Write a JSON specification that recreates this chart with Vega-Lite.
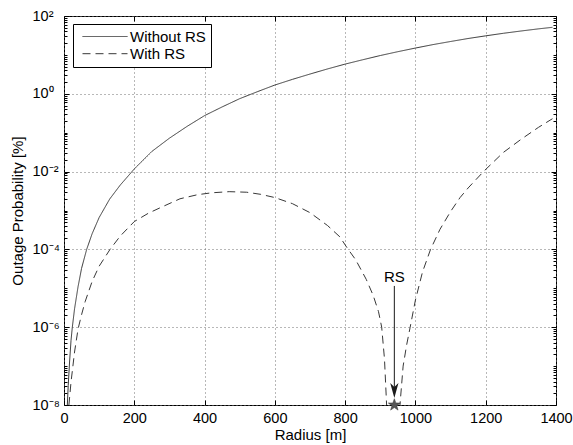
{
  "$schema": "https://vega.github.io/schema/vega-lite/v6.json",
  "width": 492,
  "height": 389,
  "autosize": "none",
  "padding": {"left": 64, "top": 16, "right": 17, "bottom": 40},
  "background": "white",
  "config": {
    "view": {"stroke": "black", "strokeWidth": 1},
    "font": "Liberation Sans",
    "axis": {
      "domain": false,
      "tickColor": "black",
      "tickWidth": 1,
      "labelColor": "black",
      "titleColor": "black",
      "labelFont": "Liberation Sans",
      "titleFont": "Liberation Sans",
      "titleFontWeight": "normal",
      "gridColor": "#707070",
      "gridDash": [1, 3],
      "gridWidth": 1,
      "labelOverlap": false,
      "labelFlush": false
    }
  },
  "datasets": {
    "curves": [
      {"r": 9.5, "p": 1e-8, "s": "Without RS"},
      {"r": 12, "p": 3.2e-8, "s": "Without RS"},
      {"r": 16, "p": 1.35e-7, "s": "Without RS"},
      {"r": 20, "p": 4.6e-7, "s": "Without RS"},
      {"r": 23.7, "p": 1e-6, "s": "Without RS"},
      {"r": 30, "p": 2.96e-6, "s": "Without RS"},
      {"r": 40, "p": 1.1e-5, "s": "Without RS"},
      {"r": 50, "p": 3.26e-5, "s": "Without RS"},
      {"r": 64.5, "p": 1e-4, "s": "Without RS"},
      {"r": 80, "p": 2.52e-4, "s": "Without RS"},
      {"r": 100, "p": 6.6e-4, "s": "Without RS"},
      {"r": 130, "p": 1.97e-3, "s": "Without RS"},
      {"r": 160, "p": 4.5e-3, "s": "Without RS"},
      {"r": 200, "p": 1.17e-2, "s": "Without RS"},
      {"r": 250, "p": 3.3e-2, "s": "Without RS"},
      {"r": 300, "p": 7.23e-2, "s": "Without RS"},
      {"r": 350, "p": 0.145, "s": "Without RS"},
      {"r": 400, "p": 0.275, "s": "Without RS"},
      {"r": 450, "p": 0.46, "s": "Without RS"},
      {"r": 500, "p": 0.75, "s": "Without RS"},
      {"r": 550, "p": 1.13, "s": "Without RS"},
      {"r": 600, "p": 1.68, "s": "Without RS"},
      {"r": 650, "p": 2.35, "s": "Without RS"},
      {"r": 700, "p": 3.22, "s": "Without RS"},
      {"r": 750, "p": 4.36, "s": "Without RS"},
      {"r": 800, "p": 5.8, "s": "Without RS"},
      {"r": 850, "p": 7.5, "s": "Without RS"},
      {"r": 900, "p": 9.63, "s": "Without RS"},
      {"r": 950, "p": 12.1, "s": "Without RS"},
      {"r": 1000, "p": 15.0, "s": "Without RS"},
      {"r": 1050, "p": 18.4, "s": "Without RS"},
      {"r": 1100, "p": 22.1, "s": "Without RS"},
      {"r": 1150, "p": 26.4, "s": "Without RS"},
      {"r": 1200, "p": 30.9, "s": "Without RS"},
      {"r": 1250, "p": 35.9, "s": "Without RS"},
      {"r": 1300, "p": 41.1, "s": "Without RS"},
      {"r": 1350, "p": 46.7, "s": "Without RS"},
      {"r": 1390, "p": 51.2, "s": "Without RS"},
      {"r": 14, "p": 1e-8, "s": "With RS"},
      {"r": 20, "p": 3.9e-8, "s": "With RS"},
      {"r": 30, "p": 2.3e-7, "s": "With RS"},
      {"r": 40, "p": 9e-7, "s": "With RS"},
      {"r": 50, "p": 2.1e-6, "s": "With RS"},
      {"r": 60, "p": 4.5e-6, "s": "With RS"},
      {"r": 80, "p": 1.5e-5, "s": "With RS"},
      {"r": 100, "p": 3.7e-5, "s": "With RS"},
      {"r": 131, "p": 1e-4, "s": "With RS"},
      {"r": 160, "p": 2.2e-4, "s": "With RS"},
      {"r": 200, "p": 5.2e-4, "s": "With RS"},
      {"r": 240, "p": 8.5e-4, "s": "With RS"},
      {"r": 280, "p": 1.25e-3, "s": "With RS"},
      {"r": 330, "p": 2.0e-3, "s": "With RS"},
      {"r": 380, "p": 2.55e-3, "s": "With RS"},
      {"r": 420, "p": 2.85e-3, "s": "With RS"},
      {"r": 470, "p": 3.05e-3, "s": "With RS"},
      {"r": 520, "p": 2.95e-3, "s": "With RS"},
      {"r": 560, "p": 2.6e-3, "s": "With RS"},
      {"r": 600, "p": 2.15e-3, "s": "With RS"},
      {"r": 650, "p": 1.5e-3, "s": "With RS"},
      {"r": 700, "p": 8.8e-4, "s": "With RS"},
      {"r": 750, "p": 4.1e-4, "s": "With RS"},
      {"r": 785, "p": 2.1e-4, "s": "With RS"},
      {"r": 804, "p": 1.15e-4, "s": "With RS"},
      {"r": 830, "p": 5.4e-5, "s": "With RS"},
      {"r": 860, "p": 1.7e-5, "s": "With RS"},
      {"r": 880, "p": 6.5e-6, "s": "With RS"},
      {"r": 895, "p": 2.5e-6, "s": "With RS"},
      {"r": 904, "p": 1e-6, "s": "With RS"},
      {"r": 912, "p": 1.5e-7, "s": "With RS"},
      {"r": 918, "p": 1e-8, "s": "With RS"},
      {"r": 940, "p": 1e-11, "s": "With RS"},
      {"r": 956, "p": 1e-8, "s": "With RS"},
      {"r": 965, "p": 1e-7, "s": "With RS"},
      {"r": 975, "p": 3.5e-7, "s": "With RS"},
      {"r": 985, "p": 1e-6, "s": "With RS"},
      {"r": 1000, "p": 5e-6, "s": "With RS"},
      {"r": 1020, "p": 2.6e-5, "s": "With RS"},
      {"r": 1043, "p": 1e-4, "s": "With RS"},
      {"r": 1070, "p": 3.3e-4, "s": "With RS"},
      {"r": 1100, "p": 9.4e-4, "s": "With RS"},
      {"r": 1127, "p": 2.15e-3, "s": "With RS"},
      {"r": 1150, "p": 3.8e-3, "s": "With RS"},
      {"r": 1195, "p": 1.03e-2, "s": "With RS"},
      {"r": 1250, "p": 3.1e-2, "s": "With RS"},
      {"r": 1300, "p": 6.7e-2, "s": "With RS"},
      {"r": 1350, "p": 0.137, "s": "With RS"},
      {"r": 1390, "p": 0.229, "s": "With RS"}
    ]
  },
  "resolve": {"axis": {"x": "independent", "y": "independent"}},
  "layer": [
    {
      "data": {"name": "curves"},
      "mark": {"type": "line", "clip": true, "color": "#383838", "strokeWidth": 1},
      "encoding": {
        "x": {
          "field": "r", "type": "quantitative",
          "scale": {"domain": [0, 1400], "nice": false, "zero": false},
          "axis": {
            "orient": "bottom",
            "values": [0, 200, 400, 600, 800, 1000, 1200, 1400],
            "format": "d",
            "title": "Radius [m]", "titleFontSize": 15, "titlePadding": 3,
            "labelFontSize": 14.5, "tickSize": -5, "labelPadding": 11, "grid": true
          }
        },
        "y": {
          "field": "p", "type": "quantitative",
          "scale": {"type": "log", "domain": [1e-8, 100], "nice": false},
          "axis": {
            "orient": "left",
            "values": [1e-8,2e-8,3e-8,4e-8,5e-8,6e-8,7e-8,8e-8,9e-8,1e-7,2e-7,3e-7,4e-7,5e-7,6e-7,7e-7,8e-7,9e-7,1e-6,2e-6,3e-6,4e-6,5e-6,6e-6,7e-6,8e-6,9e-6,1e-5,2e-5,3e-5,4e-5,5e-5,6e-5,7e-5,8e-5,9e-5,1e-4,2e-4,3e-4,4e-4,5e-4,6e-4,7e-4,8e-4,9e-4,0.001,0.002,0.003,0.004,0.005,0.006,0.007,0.008,0.009,0.01,0.02,0.03,0.04,0.05,0.06,0.07,0.08,0.09,0.1,0.2,0.3,0.4,0.5,0.6,0.7,0.8,0.9,1,2,3,4,5,6,7,8,9,10,20,30,40,50,60,70,80,90,100],
            "labelExpr": "datum.value == 100 ? '10²' : datum.value == 1 ? '10⁰' : datum.value == 0.01 ? '10⁻²' : datum.value == 0.0001 ? '10⁻⁴' : datum.value == 0.000001 ? '10⁻⁶' : datum.value == 0.00000001 ? '10⁻⁸' : ''",
            "labelAlign": "left", "labelBaseline": "middle",
            "labelFontSize": 14.5, "labelPadding": 37,
            "tickSize": {"condition": {"test": "indexof([0.00000001,0.000001,0.0001,0.01,1,100], datum.value) >= 0", "value": -5}, "value": -3},
            "gridOpacity": {"condition": {"test": "indexof([0.00000001,0.000001,0.0001,0.01,1,100], datum.value) >= 0", "value": 1}, "value": 0},
            "grid": true,
            "title": "Outage Probability [%]", "titleFontSize": 15, "titlePadding": 5
          }
        },
        "strokeDash": {
          "field": "s", "type": "nominal",
          "scale": {"domain": ["Without RS", "With RS"], "range": [[1, 0], [8, 5]]},
          "legend": {
            "title": null, "orient": "none", "legendX": 9, "legendY": 8,
            "symbolType": "stroke", "symbolSize": 2025, "symbolStrokeWidth": 1, "symbolStrokeColor": "#383838",
            "labelFontSize": 15, "labelFont": "Liberation Sans", "labelColor": "black", "labelLimit": 300,
            "strokeColor": "black", "fillColor": "white", "padding": 5, "rowPadding": 1.2,
            "clipHeight": 15,
            "labelOffset": 2, "symbolOffset": 4
          }
        },
        "order": {"field": "r", "type": "quantitative"}
      }
    },
    {
      "data": {"name": "curves"},
      "mark": {"type": "point", "opacity": 0},
      "encoding": {
        "x": {
          "field": "r", "type": "quantitative",
          "scale": {"domain": [0, 1400], "nice": false, "zero": false},
          "axis": {"orient": "top", "values": [0, 200, 400, 600, 800, 1000, 1200, 1400], "labels": false, "tickSize": -5, "grid": false, "title": null}
        },
        "y": {
          "field": "p", "type": "quantitative",
          "scale": {"type": "log", "domain": [1e-8, 100], "nice": false},
          "axis": {
            "orient": "right",
            "values": [1e-8,2e-8,3e-8,4e-8,5e-8,6e-8,7e-8,8e-8,9e-8,1e-7,2e-7,3e-7,4e-7,5e-7,6e-7,7e-7,8e-7,9e-7,1e-6,2e-6,3e-6,4e-6,5e-6,6e-6,7e-6,8e-6,9e-6,1e-5,2e-5,3e-5,4e-5,5e-5,6e-5,7e-5,8e-5,9e-5,1e-4,2e-4,3e-4,4e-4,5e-4,6e-4,7e-4,8e-4,9e-4,0.001,0.002,0.003,0.004,0.005,0.006,0.007,0.008,0.009,0.01,0.02,0.03,0.04,0.05,0.06,0.07,0.08,0.09,0.1,0.2,0.3,0.4,0.5,0.6,0.7,0.8,0.9,1,2,3,4,5,6,7,8,9,10,20,30,40,50,60,70,80,90,100],
            "labels": false, "grid": false, "title": null,
            "tickSize": {"condition": {"test": "indexof([0.00000001,0.000001,0.0001,0.01,1,100], datum.value) >= 0", "value": -5}, "value": -3}
          }
        }
      }
    },
    {
      "data": {"values": [{"r": 940, "top": 1.15e-5, "bot": 2.36e-8}]},
      "mark": {"type": "rule", "color": "#1a1a1a", "strokeWidth": 1},
      "encoding": {
        "x": {"field": "r", "type": "quantitative", "scale": {"domain": [0, 1400], "nice": false, "zero": false}, "axis": null},
        "y": {"field": "top", "type": "quantitative", "scale": {"type": "log", "domain": [1e-8, 100], "nice": false}, "axis": null},
        "y2": {"field": "bot"}
      }
    },
    {
      "data": {"values": [{"r": 940, "p": 2.36e-8}]},
      "mark": {"type": "point", "shape": "M0,1 L-0.55,-1 L0,-0.45 L0.55,-1 Z", "filled": true, "color": "#1a1a1a", "size": 225, "opacity": 1},
      "encoding": {
        "x": {"field": "r", "type": "quantitative", "scale": {"domain": [0, 1400], "nice": false, "zero": false}, "axis": null},
        "y": {"field": "p", "type": "quantitative", "scale": {"type": "log", "domain": [1e-8, 100], "nice": false}, "axis": null}
      }
    },
    {
      "data": {"values": [{"r": 940, "p": 1.92e-5, "label": "RS"}]},
      "mark": {"type": "text", "fontSize": 15, "font": "Liberation Sans", "color": "black", "align": "center", "baseline": "middle"},
      "encoding": {
        "x": {"field": "r", "type": "quantitative", "scale": {"domain": [0, 1400], "nice": false, "zero": false}, "axis": null},
        "y": {"field": "p", "type": "quantitative", "scale": {"type": "log", "domain": [1e-8, 100], "nice": false}, "axis": null},
        "text": {"field": "label"}
      }
    },
    {
      "data": {"values": [{"r": 940, "p": 1e-8}]},
      "mark": {"type": "point", "shape": "M0,-1 L0.235,-0.324 L0.951,-0.309 L0.38,0.124 L0.588,0.809 L0,0.4 L-0.588,0.809 L-0.38,0.124 L-0.951,-0.309 L-0.235,-0.324 Z", "filled": true, "color": "#555555", "stroke": "#333333", "strokeWidth": 0.5, "size": 160, "opacity": 1},
      "encoding": {
        "x": {"field": "r", "type": "quantitative", "scale": {"domain": [0, 1400], "nice": false, "zero": false}, "axis": null},
        "y": {"field": "p", "type": "quantitative", "scale": {"type": "log", "domain": [1e-8, 100], "nice": false}, "axis": null}
      }
    }
  ]
}
